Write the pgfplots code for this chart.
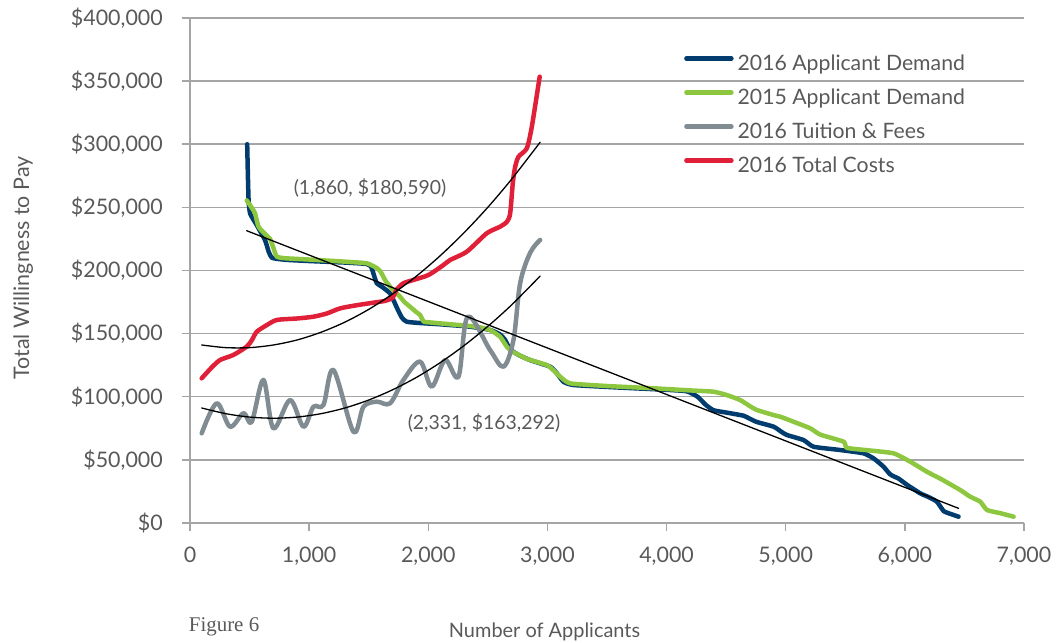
\documentclass[border=0pt]{standalone}
\usepackage{pgfplots}
\pgfplotsset{compat=1.18}
\usepackage{fontspec}
\setmainfont{Lato}
\newfontfamily\figfont{Liberation Serif}
\definecolor{blueA}{RGB}{0,61,110}
\definecolor{greenA}{RGB}{141,198,63}
\definecolor{grayA}{RGB}{128,139,146}
\definecolor{redA}{RGB}{224,32,56}
\definecolor{gridc}{RGB}{165,165,165}
\definecolor{txt}{RGB}{89,89,89}

\pgfplotstableread{
x y
480 300000
486 275000
492 255000
505 245000
560 236000
630 224000
660 215000
690 210000
800 208500
1000 207500
1300 206300
1480 205200
1520 203000
1545 196000
1567 190000
1620 186500
1679 181900
1710 176000
1749 168000
1780 162500
1819 159400
1931 158400
2100 157400
2351 155500
2519 152900
2600 149500
2645 145000
2687 137500
2760 133000
2855 129000
3023 123800
3080 118500
3134 111900
3219 109300
3600 107300
4000 105500
4170 104300
4260 100000
4330 93500
4394 89300
4500 87500
4646 85000
4700 82500
4758 80000
4898 76300
4960 72500
5010 69700
5150 65700
5234 60400
5458 57800
5653 55200
5740 51000
5821 44600
5877 38500
5950 35000
6017 30300
6129 23500
6200 20500
6269 16900
6325 9500
6380 7300
6451 5000
}\demandA

\pgfplotstableread{
x y
476 255500
520 249500
546 245300
570 236000
588 233000
640 228000
672 225000
700 218000
728 211000
800 209700
1036 208500
1300 207000
1484 205700
1567 202000
1600 199000
1640 192000
1679 187200
1720 183000
1763 179300
1800 175000
1847 171300
1900 167000
1931 164800
1959 159800
2000 159000
2351 156000
2435 155000
2519 152900
2603 147500
2659 139600
2700 136000
2743 134000
2827 130000
2995 125100
3050 121000
3107 115900
3191 110600
3500 108500
3890 106700
4200 105000
4394 104000
4500 101500
4618 97400
4700 92500
4758 89500
4898 85500
4954 84200
5066 80200
5206 75000
5290 70000
5486 64400
5514 59500
5700 57500
5905 55200
6045 48600
6185 40600
6300 35000
6465 26100
6549 20800
6633 16900
6689 10300
6800 7800
6913 5000
}\demandB

\pgfplotstableread{
x y
98 71000
224 94800
336 76300
448 86900
518 80200
616 113300
700 75000
840 97400
952 76300
1036 92100
1120 93500
1204 121200
1372 72300
1456 92100
1567 96100
1679 94800
1791 113300
1931 127800
2029 108000
2141 129100
2253 115900
2331 163292
2519 137000
2631 123800
2715 145000
2771 189900
2855 214000
2939 224200
}\tuition

\pgfplotstableread{
x y
98 114600
180 123000
252 129100
364 133100
476 139700
520 145000
560 151500
640 156500
728 160800
900 162000
1036 163400
1150 166000
1259 170000
1400 172500
1539 174500
1640 176000
1700 178500
1735 185000
1791 189900
1875 192500
2001 196400
2127 204300
2183 208300
2323 214900
2491 229500
2603 234700
2659 238500
2687 245000
2710 270000
2729 282000
2757 290100
2827 296800
2869 313900
2935 353500
}\totalcost

\pgfplotstableread{
x y
98 141000
300 138900
500 138900
700 141000
900 145000
1100 151100
1300 159100
1500 169200
1700 181400
1900 195500
2100 211700
2300 229900
2500 250100
2700 272400
2939 301600
}\trendcost

\pgfplotstableread{
x y
98 91100
300 86600
500 83900
700 83000
900 83900
1100 86600
1300 91100
1500 97400
1700 105500
1900 115300
2100 127000
2300 140500
2500 155800
2700 172800
2939 195600
}\trendtuition

\begin{document}
\begin{tikzpicture}
\useasboundingbox (0,0) rectangle (1059bp,643bp);
\begin{axis}[
  at={(190bp,120bp)}, anchor=south west,
  scale only axis, width=834bp, height=505bp,
  xmin=0, xmax=7000, ymin=0, ymax=400000,
  axis x line*=bottom, axis y line*=left,
  axis line style={gridc, line width=1.5bp, -},
  xtick={0,1000,2000,3000,4000,5000,6000,7000},
  xticklabels={0,{1,000},{2,000},{3,000},{4,000},{5,000},{6,000},{7,000}},
  ytick={0,50000,100000,150000,200000,250000,300000,350000,400000},
  yticklabels={{\$0},{\$50,000},{\$100,000},{\$150,000},{\$200,000},{\$250,000},{\$300,000},{\$350,000},{\$400,000}},
  scaled ticks=false,
  tick align=outside,
  major tick length=8bp,
  tick style={gridc, line width=1.5bp},
  ymajorgrids,
  major grid style={gridc, line width=1.5bp},
  ticklabel style={font=\fontsize{21.5}{21.5}\selectfont, text=txt, inner sep=0pt},
  xticklabel style={anchor=north},
  yticklabel style={anchor=east},
  xticklabel shift=16bp,
  yticklabel shift=19bp,
  legend style={draw=none, fill=none, at={(rel axis cs:0.5923,0.927)}, anchor=north west,
    font=\fontsize{21.3}{21.3}\selectfont, text=txt, inner sep=0pt, row sep=14bp, column sep=4bp,
    nodes={inner sep=0pt, text height=15bp, text depth=5bp}},
  legend cell align=left,
  legend image code/.code={\draw[#1, line width=4.5bp, line cap=round] (2bp,6.5bp) -- (47bp,6.5bp);},
  every axis plot/.append style={line join=round, line cap=round},
]
\addplot[blueA, line width=4.5bp, smooth, tension=0.3] table {\demandA};
\addlegendentry{2016 Applicant Demand}
\addplot[greenA, line width=4.5bp, smooth, tension=0.3] table {\demandB};
\addlegendentry{2015 Applicant Demand}
\addplot[grayA, line width=4.5bp, smooth, tension=0.55] table {\tuition};
\addlegendentry{2016 Tuition \& Fees}
\addplot[redA, line width=4.5bp, smooth, tension=0.4] table {\totalcost};
\addlegendentry{2016 Total Costs}
\addplot[black, line width=1.3bp, forget plot] coordinates {(476,231500) (6451,11600)};
\addplot[black, line width=1.3bp, smooth, forget plot] table {\trendcost};
\addplot[black, line width=1.3bp, smooth, forget plot] table {\trendtuition};
\node[font=\fontsize{19.5}{19.5}\selectfont, text=txt] at (axis cs:1511,265300) {(1,860, \$180,590)};
\node[font=\fontsize{19.5}{19.5}\selectfont, text=txt] at (axis cs:2468,79000) {(2,331, \$163,292)};
\end{axis}
\node[font=\fontsize{20}{20}\selectfont, text=txt, anchor=base, inner sep=0pt] at (544.5bp,5.7bp) {Number of Applicants};
\node[font=\fontsize{21.5}{21.5}\selectfont, text=txt, anchor=base, rotate=90, inner sep=0pt] at (29bp,375bp) {Total Willingness to Pay};
\node[font=\figfont\fontsize{21}{21}\selectfont, text=txt, anchor=base west, inner sep=0pt] at (188.7bp,12bp) {Figure 6};
\end{tikzpicture}
\end{document}
